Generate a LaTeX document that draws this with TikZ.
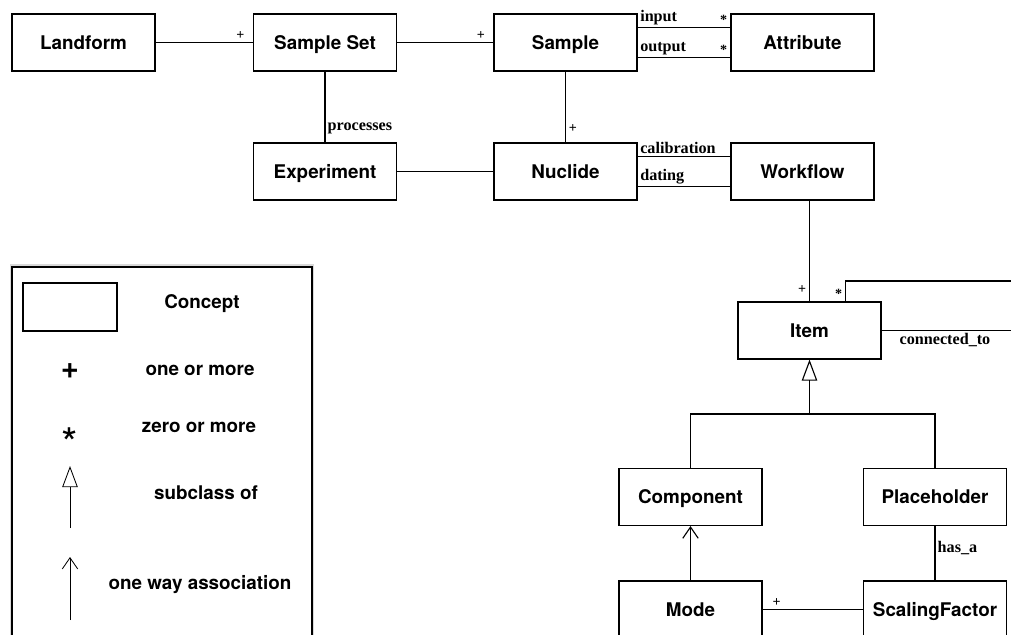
\documentclass[tikz,border=0pt]{standalone}
\usepackage{fontspec}
\setsansfont{TeX Gyre Heros}
\setmainfont{Liberation Serif}
\usepackage{tikz}
\usetikzlibrary{arrows.meta}
\usetikzlibrary{shadows}

\begin{document}
\begin{tikzpicture}[x=0.025cm,y=-0.025cm,line width=0.8pt,
   concept/.style={draw,rectangle,minimum width=3.575cm,minimum height=1.425cm,
      text height=9.6pt,text depth=0pt,
      font=\sffamily\bfseries\fontsize{13.4}{16}\selectfont},
   keytext/.style={font=\sffamily\bfseries\fontsize{13.4}{16}\selectfont},
   lbl/.style={font=\bfseries\fontsize{11.5}{13}\selectfont,inner sep=1.5pt},
   mult/.style={font=\bfseries\fontsize{10}{12}\selectfont,inner sep=2pt},
   subclass/.style={-{Triangle[open,length=15pt,width=11pt]}},
   assoc/.style={-{Straight Barb[length=8pt,width=11pt]}}]
\useasboundingbox (0,0) rectangle (1011,635);
\clip (0,0) rectangle (1011,635);
\node[concept] (landform) at (83.5,42.5) {Landform};
\node[concept] (sampleset) at (325,42.5) {Sample Set};
\node[concept] (sample) at (565.5,42.5) {Sample};
\node[concept] (attribute) at (802.5,42.5) {Attribute};
\node[concept] (experiment) at (325,171.5) {Experiment};
\node[concept] (nuclide) at (565.5,171.5) {Nuclide};
\node[concept] (workflow) at (802.5,171.5) {Workflow};
\node[concept] (item) at (809.5,330.5) {Item};
\node[concept] (component) at (690.5,497) {Component};
\node[concept] (placeholder) at (935,497) {Placeholder};
\node[concept] (mode) at (690.5,609.5) {Mode};
\node[concept] (scaling) at (935,609.5) {ScalingFactor};
\coordinate (branch) at (809.5,414);
\coordinate (loop) at (1040,281);
\draw (landform) -- node[mult,above,pos=0.87] {+} (sampleset);
\draw (sampleset) -- node[mult,above,pos=0.87] {+} (sample);
\draw ([yshift=-0.35cm]sample.north east) -- node[lbl,above right,pos=0] {input}
   node[mult,above left,pos=1] {*} ([yshift=-0.35cm]attribute.north west);
\draw ([yshift=0.35cm]sample.south east) -- node[lbl,above right,pos=0] {output}
   node[mult,above left,pos=1] {*} ([yshift=0.35cm]attribute.south west);
\draw (sampleset) -- node[lbl,right,pos=0.8] {processes} (experiment);
\draw (sample) -- node[mult,right,pos=0.8] {+} (nuclide);
\draw (experiment) -- (nuclide);
\draw ([yshift=-0.35cm]nuclide.north east) -- node[lbl,above right,pos=0] {calibration}
   ([yshift=-0.35cm]workflow.north west);
\draw ([yshift=0.35cm]nuclide.south east) -- node[lbl,above right,pos=0] {dating}
   ([yshift=0.35cm]workflow.south west);
\draw (item.north |- workflow.south) -- node[mult,left,pos=0.88] {+} (item.north);
\draw ([xshift=0.9cm]item.north) node[mult,above left] {*} |- (loop)
   |- node[lbl,below,pos=0.8] {connected\_to} (item.east);
\draw[subclass] (branch) -- (item);
\draw (component) |- (branch) -| (placeholder);
\draw[assoc] (mode) -- (component);
\draw (mode) -- node[mult,above,pos=0.14] {+} (scaling);
\draw (placeholder) -- node[lbl,right,pos=0.4] {has\_a} (scaling);
\draw[fill=white,drop shadow={shadow xshift=0pt,shadow yshift=0pt,shadow scale=1.015,opacity=0.3}]
   (12,267) rectangle (312,660);
\node[draw,minimum width=2.35cm,minimum height=1.2cm] (keyconcept) at (70,307) {};
\node[keytext] (keyconcepttext) at (202,304) {Concept};
\node[font=\sffamily\bfseries\fontsize{22}{24}\selectfont] (keyplus) at (70,371) {+};
\node[keytext] (keyplustext) at (200,370) {one or more};
\node[font=\sffamily\fontsize{30}{32}\selectfont] (keystar) at (70,443) {*};
\node[keytext] (keystartext) at (199,427) {zero or more};
\coordinate (keysubA) at (70,528);
\coordinate (keysubB) at (70,466);
\draw[subclass,line width=0.6pt] (keysubA) -- (keysubB);
\node[keytext] (keysubtext) at (206,493) {subclass of};
\coordinate (keyassocA) at (70,620);
\coordinate (keyassocB) at (70,557);
\draw[assoc,line width=0.6pt] (keyassocA) -- (keyassocB);
\node[keytext] (keyassoctext) at (200,585) {one way association};
\end{tikzpicture}
\end{document}
